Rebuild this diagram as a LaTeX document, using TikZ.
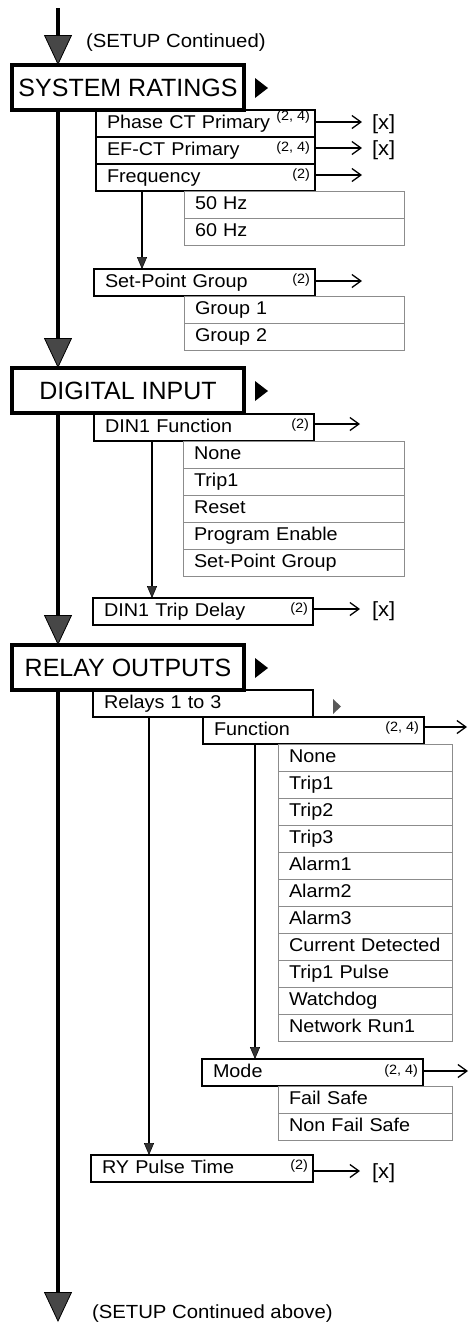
\documentclass[tikz,border=0pt]{standalone}
\usepackage{fontspec}
\setmainfont{Liberation Sans}[FakeStretch=1.07]
\newfontfamily\hdrfont{Liberation Sans}
\usetikzlibrary{arrows.meta}
\newcommand\itemfont{\fontsize{18.5}{22}\selectfont}
\begin{document}
\begin{tikzpicture}[x=1pt,y=-1pt,
  every node/.style={inner sep=0pt, outer sep=0pt},
  hdr/.style={draw, line width=3.8pt, anchor=north west, minimum width=232pt, minimum height=45pt, font=\hdrfont\fontsize{25}{28}\selectfont},
  item/.style={draw, line width=1.8pt, anchor=north west, inner xsep=11pt, inner ysep=0pt, text width=#1, align=left, minimum height=27pt, text height=13pt, text depth=4pt, font=\itemfont},
  opt/.style={item=#1, draw=black!45, line width=0.8pt},
  sup/.style={anchor=north east, font=\fontsize{13.5}{15}\selectfont},
  val/.style={anchor=west, font=\fontsize{20.5}{23}\selectfont},
  note/.style={anchor=west, font=\fontsize{19}{22}\selectfont},
  rarrow/.style={line width=1.3pt, -{Straight Barb[length=9pt,width=13pt,line width=1.3pt]}},
  varrow/.style={line width=1.3pt, -{Triangle[length=12pt,width=10pt,line width=0.5pt,fill=black!80]}},
  mainarrow/.style={line width=4pt, -{Triangle[length=30pt,width=28pt,line width=0.8pt,fill=black!72]}}
]
\useasboundingbox (0,0) rectangle (471,1326);

% ---------- SYSTEM RATINGS ----------
\node[hdr] (sr) at (12,65) {SYSTEM RATINGS};
\fill (255,78) -- (268,88) -- (255,98) -- cycle;
\node[note] (ttop) at (86,43) {(SETUP Continued)};

\node[item=197pt] (pct) at (96,110) {Phase CT Primary};
\node[item=197pt] (efct) at (96,137) {EF-CT Primary};
\node[item=197pt] (freq) at (96,164) {Frequency};
\node[sup] (s1) at ([shift={(-5,1)}]pct.north east) {(2, 4)};
\node[sup] (s2) at ([shift={(-5,5)}]efct.north east) {(2, 4)};
\node[sup] (s3) at ([shift={(-5,5)}]freq.north east) {(2)};
\node[opt=198pt] (f50) at (184,191) {50 Hz};
\node[opt=198pt] (f60) at (184,218) {60 Hz};

\node[item=199pt] (spg) at (94,269) {Set-Point Group};
\node[sup] (s4) at ([shift={(-5,5)}]spg.north east) {(2)};
\node[opt=198pt] (g1) at (184,296) {Group 1};
\node[opt=198pt] (g2) at (184,323) {Group 2};

\coordinate (e1) at (362,122);
\coordinate (e2) at (362,148);
\coordinate (e3) at (362,175);
\coordinate (e4) at (362,281);
\draw[rarrow] (pct.east |- e1) -- (e1);
\draw[rarrow] (efct.east |- e2) -- (e2);
\draw[rarrow] (freq.east |- e3) -- (e3);
\draw[rarrow] (spg.east |- e4) -- (e4);
\node[val] (x1) at (372,124) {[x]};
\node[val] (x2) at (372,150) {[x]};

\coordinate (vx1) at (142,0);
\draw[varrow] (freq.south -| vx1) -- (spg.north -| vx1);

% ---------- DIGITAL INPUT ----------
\node[hdr] (di) at (12,368) {DIGITAL INPUT};
\fill (255,381) -- (268,391) -- (255,401) -- cycle;

\node[item=198pt] (din) at (94,414) {DIN1 Function};
\node[sup] (s5) at ([shift={(-5,5)}]din.north east) {(2)};
\node[opt=199pt] (dn1) at (183,441) {None};
\node[opt=199pt] (dn2) at (183,468) {Trip1};
\node[opt=199pt] (dn3) at (183,495) {Reset};
\node[opt=199pt] (dn4) at (183,522) {Program Enable};
\node[opt=199pt] (dn5) at (183,549) {Set-Point Group};

\node[item=198pt] (dtd) at (93,598) {DIN1 Trip Delay};
\node[sup] (s6) at ([shift={(-5,5)}]dtd.north east) {(2)};

\coordinate (e5) at (360,424);
\coordinate (e6) at (360,609);
\draw[rarrow] (din.east |- e5) -- (e5);
\draw[rarrow] (dtd.east |- e6) -- (e6);
\node[val] (x3) at (372,611) {[x]};

\coordinate (vx2) at (152,0);
\draw[varrow] (din.south -| vx2) -- (dtd.north -| vx2);

% ---------- RELAY OUTPUTS ----------
\node[hdr] (ro) at (12,645) {RELAY OUTPUTS};
\fill (255,658) -- (268,668) -- (255,678) -- cycle;

\node[item=198pt] (r13) at (93,690) {Relays 1 to 3};
\fill[black!65] (333,699) -- (341,706.5) -- (333,714) -- cycle;

\node[item=199pt] (fn) at (203,717) {Function};
\node[sup] (s7) at ([shift={(-5,5)}]fn.north east) {(2, 4)};
\node[opt=152pt] (o1) at (278,744) {None};
\node[opt=152pt] (o2) at (278,771) {Trip1};
\node[opt=152pt] (o3) at (278,798) {Trip2};
\node[opt=152pt] (o4) at (278,825) {Trip3};
\node[opt=152pt] (o5) at (278,852) {Alarm1};
\node[opt=152pt] (o6) at (278,879) {Alarm2};
\node[opt=152pt] (o7) at (278,906) {Alarm3};
\node[opt=152pt] (o8) at (278,933) {Current Detected};
\node[opt=152pt] (o9) at (278,960) {Trip1 Pulse};
\node[opt=152pt] (o10) at (278,987) {Watchdog};
\node[opt=152pt] (o11) at (278,1014) {Network Run1};

\node[item=199pt] (mode) at (202,1059) {Mode};
\node[sup] (s8) at ([shift={(-5,6)}]mode.north east) {(2, 4)};
\node[opt=152pt] (m1) at (278,1086) {Fail Safe};
\node[opt=152pt] (m2) at (278,1113) {Non Fail Safe};

\node[item=200pt] (ryp) at (91,1155) {RY Pulse Time};
\node[sup] (s9) at ([shift={(-5,5)}]ryp.north east) {(2)};

\coordinate (e7) at (467,727);
\coordinate (e8) at (468,1071);
\coordinate (e9) at (360,1171);
\draw[rarrow] (fn.east |- e7) -- (e7);
\draw[rarrow] (mode.east |- e8) -- (e8);
\draw[rarrow] (ryp.east |- e9) -- (e9);
\node[val] (x4) at (372,1173) {[x]};

\coordinate (vx3) at (149,0);
\coordinate (vx4) at (255,0);
\draw[varrow] (r13.south -| vx3) -- (ryp.north -| vx3);
\draw[varrow] (fn.south -| vx4) -- (mode.north -| vx4);

% ---------- main flow ----------
\coordinate (mtop) at (58,8);
\coordinate (mbot) at (58,1322);
\draw[mainarrow] (mtop) -- (mtop |- sr.north);
\draw[mainarrow] (mtop |- sr.south) -- (mtop |- di.north);
\draw[mainarrow] (mtop |- di.south) -- (mtop |- ro.north);
\draw[mainarrow] (mtop |- ro.south) -- (mbot);
\node[note] (tbot) at (92,1314) {(SETUP Continued above)};
\end{tikzpicture}
\end{document}
